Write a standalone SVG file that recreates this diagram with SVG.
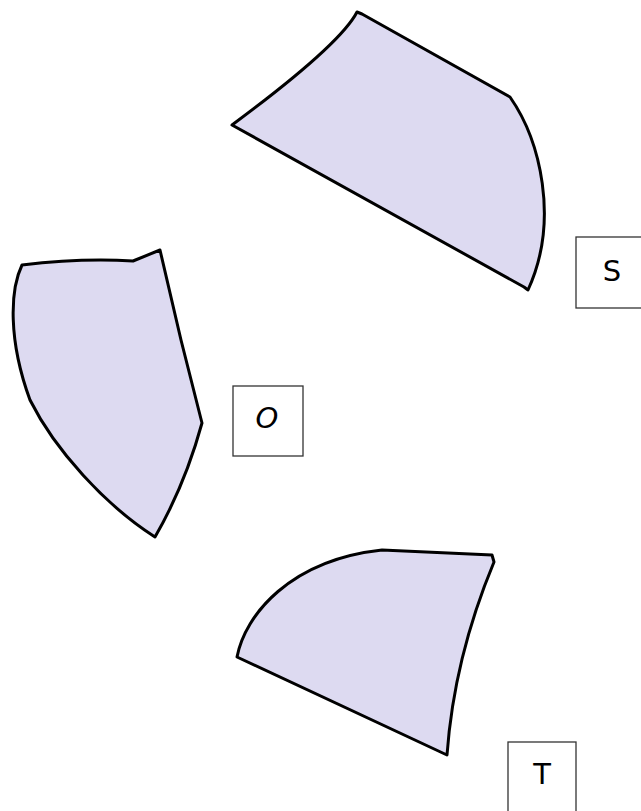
<svg xmlns="http://www.w3.org/2000/svg" width="641" height="811" viewBox="0 0 641 811">
<style>
.shape{fill:#dddaf1;stroke:#000;stroke-width:3;stroke-linejoin:round;stroke-linecap:round}
.box{fill:#fff;stroke:#333;stroke-width:1.3}
.lbl{font-family:"DejaVu Sans","Liberation Sans",sans-serif;font-size:29px;fill:#000;text-anchor:middle}
</style>
<rect width="641" height="811" fill="#fff"/>
<g id="S">
<path class="shape" d="M232,125 Q340,45 357,12 L362,14 L510,97 C540,140 560,220 528,290 L524,287 Z"/>
<rect class="box" x="576" y="237" width="70" height="71"/>
<text class="lbl" x="612" y="281">S</text>
</g>
<g id="O">
<path class="shape" d="M22,265 Q80,258 133,261 L160,250 L181,340 L202,423 Q185,485 155,537 C105,505 55,450 30,400 C8,340 10,290 22,265 Z"/>
<rect class="box" x="233" y="386" width="70" height="70"/>
<text class="lbl" x="267" y="428" font-style="italic">O</text>
</g>
<g id="T">
<path class="shape" d="M237,657 C245,615 290,560 382,550 L492,555 L494,562 Q454,658 447,755 Z"/>
<rect class="box" x="508" y="742" width="68" height="72"/>
<text class="lbl" x="542" y="784">T</text>
</g>
<g id="connectors"/>
</svg>
